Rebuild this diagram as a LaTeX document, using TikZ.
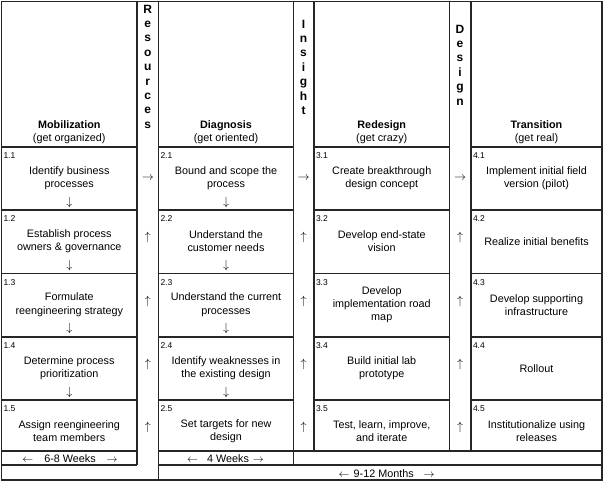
\documentclass[tikz,border=0pt]{standalone}
\usepackage{fontspec}
\setmainfont{Liberation Sans}
\newcommand\mycell[6]{%
  \node[num] (n#1) at (#2+1.8,#4+11.5) {#5};
  \node[txt] (t#1) at (#3,#4+31.3) {#6};
}
\begin{document}
\begin{tikzpicture}[x=1pt,y=-1pt,
  grid/.style={draw=black!85,line width=1.3pt},
  txt/.style={align=center,inner sep=0pt,font=\fontsize{10.8}{13.3}\selectfont},
  num/.style={anchor=base west,inner sep=0pt,font=\fontsize{8.5}{9}\selectfont},
  arr/.style={inner sep=0pt,font=\fontsize{12.5}{13}\selectfont},
  vert/.style={align=center,anchor=north,inner sep=0pt,font=\fontsize{12}{14.4}\selectfont\bfseries},
  head/.style={align=center,anchor=south,inner sep=0pt,font=\fontsize{10.8}{13}\selectfont}]
\useasboundingbox (0,0) rectangle (605,482);
% grid
\draw[grid] (1.5,1.5) rectangle (602,480);
\foreach \x/\yb in {137/465,158.5/480,293.5/465,314/451,449.5/451,471/451}
  \draw[grid] (\x,1.5) -- (\x,\yb);
\foreach \y in {147,210,273.5,337,400} {
  \draw[grid] (1.5,\y) -- (137,\y);
  \draw[grid] (158.5,\y) -- (293.5,\y);
  \draw[grid] (314,\y) -- (449.5,\y);
  \draw[grid] (471,\y) -- (602,\y);
}
\foreach \y in {451,465} {
  \draw[grid] (1.5,\y) -- (137,\y);
  \draw[grid] (158.5,\y) -- (602,\y);
}
% headings
\node[head] (h1) at (69.25,143.8) {\textbf{Mobilization}\\(get organized)};
\node[head] (h2) at (226,143.8) {\textbf{Diagnosis}\\(get oriented)};
\node[head] (h3) at (381.75,143.8) {\textbf{Redesign}\\(get crazy)};
\node[head] (h4) at (536.5,143.8) {\textbf{Transition}\\(get real)};
% vertical labels
\node[vert] (res) at (147.8,4.7) {R\\e\\s\\o\\u\\r\\c\\e\\s};
\node[vert] (ins) at (303.5,19.7) {I\\n\\s\\i\\g\\h\\t};
\node[vert] (des) at (460,24.7) {D\\e\\s\\i\\g\\n};
% column 1
\mycell{11}{1.5}{69.25}{147}{1.1}{Identify business\\processes}
\mycell{12}{1.5}{69.25}{210}{1.2}{Establish process\\owners \& governance}
\mycell{13}{1.5}{69.25}{273.5}{1.3}{Formulate\\reengineering strategy}
\mycell{14}{1.5}{69.25}{337}{1.4}{Determine process\\prioritization}
\mycell{15}{1.5}{69.25}{400}{1.5}{Assign reengineering\\team members}
% column 2
\mycell{21}{158.5}{226}{147}{2.1}{Bound and scope the\\process}
\mycell{22}{158.5}{226}{210}{2.2}{Understand the\\customer needs}
\mycell{23}{158.5}{226}{273.5}{2.3}{Understand the current\\processes}
\mycell{24}{158.5}{226}{337}{2.4}{Identify weaknesses in\\the existing design}
\mycell{25}{158.5}{226}{400}{2.5}{Set targets for new\\design}
% column 3
\mycell{31}{314}{381.75}{147}{3.1}{Create breakthrough\\design concept}
\mycell{32}{314}{381.75}{210}{3.2}{Develop end-state\\vision}
\mycell{33}{314}{381.75}{273.5}{3.3}{Develop\\implementation road\\map}
\mycell{34}{314}{381.75}{337}{3.4}{Build initial lab\\prototype}
\mycell{35}{314}{381.75}{400}{3.5}{Test, learn, improve,\\and iterate}
% column 4
\mycell{41}{471}{536.5}{147}{4.1}{Implement initial field\\version (pilot)}
\mycell{42}{471}{536.5}{210}{4.2}{Realize initial benefits}
\mycell{43}{471}{536.5}{273.5}{4.3}{Develop supporting\\infrastructure}
\mycell{44}{471}{536.5}{337}{4.4}{Rollout}
\mycell{45}{471}{536.5}{400}{4.5}{Institutionalize using\\releases}
% down arrows in cells
\foreach \c/\x in {1/69.25,2/226} {
  \foreach \r/\y in {1/202,2/265,3/328.5,4/392}
    \node[arr] (d\c\r) at (\x,\y) {$\downarrow$};
}
% strip arrows
\foreach \s/\x in {1/147.8,2/303.5,3/460} {
  \node[arr] (r\s1) at (\x,178.3) {$\rightarrow$};
  \foreach \r/\y in {2/237.5,3/301,4/364.5,5/427.5}
    \node[arr] (u\s\r) at (\x,\y) {$\uparrow$};
}
% durations
\node[txt,anchor=base] (w1) at (70,462.7) {$\leftarrow$\hspace{11pt}6-8 Weeks\hspace{11pt}$\rightarrow$};
\node[txt,anchor=base] (w2) at (225.5,462.7) {$\leftarrow$\hspace{9pt}4 Weeks\hspace{4pt}$\rightarrow$};
\node[txt,anchor=base] (m1) at (386.7,477) {$\leftarrow$\hspace{4pt}9-12 Months\hspace{10pt}$\rightarrow$};
\end{tikzpicture}
\end{document}
